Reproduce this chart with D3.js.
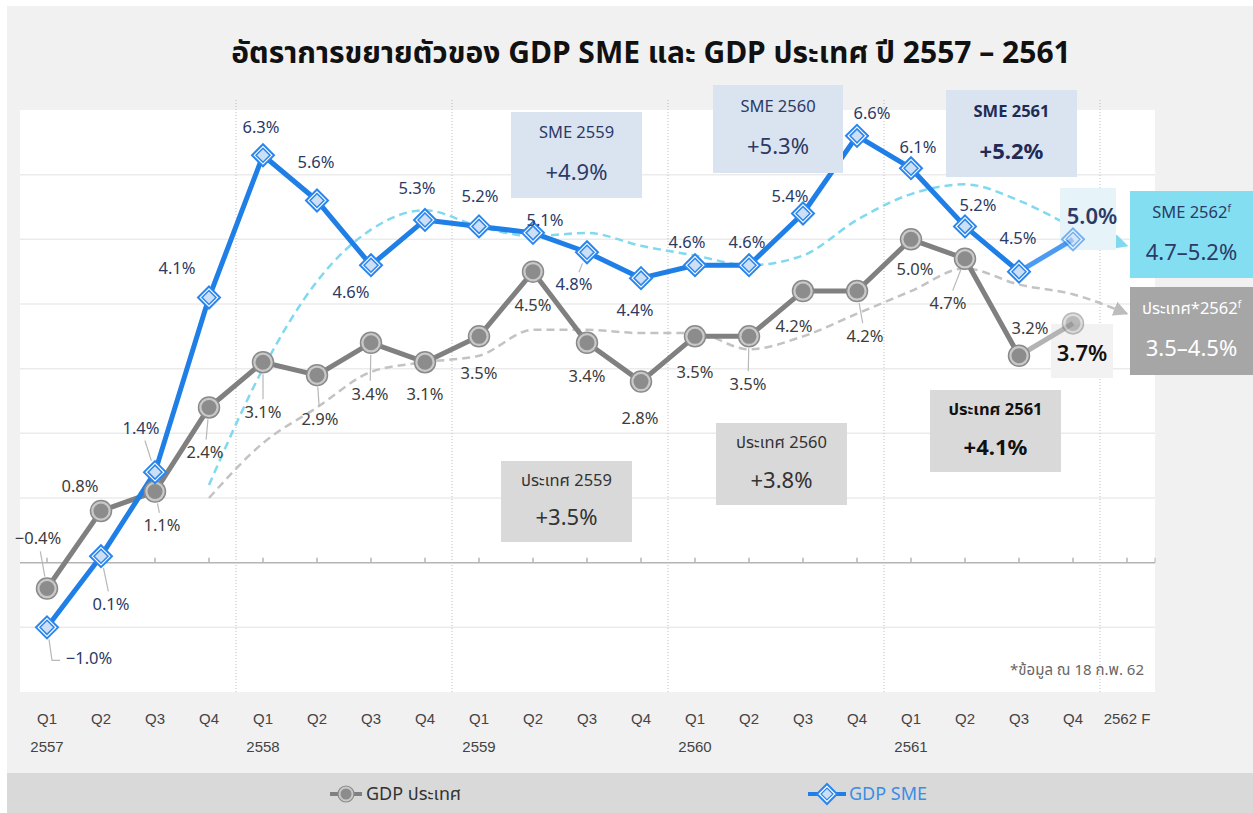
<!DOCTYPE html>
<html lang="th">
<head>
<meta charset="utf-8">
<title>GDP SME vs GDP ประเทศ</title>
<script src="https://cdn.jsdelivr.net/npm/d3@7"></script>
<style>
  body { margin: 0; background: #fff; }
  svg text { font-family: "Noto Sans", "Noto Sans Thai", "Leelawadee UI", sans-serif; }
  .xlab { font-family: "Liberation Sans Narrow", "Liberation Sans", sans-serif !important; }
</style>
</head>
<body>
<script>
// ---- data ----
var quarters = ["Q1","Q2","Q3","Q4","Q1","Q2","Q3","Q4","Q1","Q2","Q3","Q4",
                "Q1","Q2","Q3","Q4","Q1","Q2","Q3","Q4","2562 F"];
var years = ["2557","","","","2558","","","","2559","","","","2560","","","","2561","","","",""];
var gdpCountry = [-0.4, 0.8, 1.1, 2.4, 3.1, 2.9, 3.4, 3.1, 3.5, 4.5, 3.4, 2.8, 3.5, 3.5, 4.2, 4.2, 5.0, 4.7, 3.2, 3.7];
var gdpSme = [-1.0, 0.1, 1.4, 4.1, 6.3, 5.6, 4.6, 5.3, 5.2, 5.1, 4.8, 4.4, 4.6, 4.6, 5.4, 6.6, 6.1, 5.2, 4.5, 5.0];
// dashed trend lines, from Q4 2557 to 2562 F
var trendStart = 3;
var smeTrend = [1.2, 3.0, 4.35, 5.15, 5.45, 5.2, 5.05, 5.1, 4.9, 4.75, 4.6, 4.75, 5.3, 5.7, 5.85, 5.6, 5.2, 4.9];
var countryTrend = [1.0, 1.85, 2.4, 2.95, 3.1, 3.2, 3.6, 3.6, 3.55, 3.55, 3.3, 3.5, 3.85, 4.2, 4.55, 4.3, 4.15, 3.85];
var yearStarts = [4, 8, 12, 16, 20];
var smeAnnual = ["+4.9%", "+5.3%", "+5.2%"];
var countryAnnual = ["+3.5%", "+3.8%", "+4.1%"];
var smeForecast = "4.7\u20135.2%";
var countryForecast = "3.5\u20134.5%";
var yTicks = [-1, 0, 1, 2, 3, 4, 5, 6];

// label offsets [dx, dy, leader]
var smeLab = [[42,31,1],[10,48,1],[-14,-44,1],[-32,-29,0],[-2,-28,0],[-1,-38,0],[-20,27,0],[-8,-32,0],
              [1,-30,0],[12,-13,0],[-13,32,1],[-6,32,0],[-8,-23,0],[-2,-23,0],[-13,-17,0],[15,-23,0],
              [7,-21,0],[13,-21,0],[-1,-33,0],[19,-23,0]];
var gdpLab = [[-9,-50,1],[-21,-25,0],[7,34,1],[-4,45,1],[0,50,1],[3,44,1],[-1,51,1],[0,32,0],
              [0,37,0],[0,34,0],[0,33,0],[-1,37,0],[0,36,0],[-1,48,1],[-9,35,0],[8,45,1],
              [4,30,0],[-17,44,1],[11,-28,0],[9,30,0]];

var W = 1253, H = 813;
var svg = d3.select("body").append("svg").attr("width", W).attr("height", H);

svg.append("rect").attr("x", 7).attr("y", 6).attr("width", W - 7).attr("height", H - 6).attr("fill", "#f1f1f1");
svg.append("rect").attr("x", 7).attr("y", 773).attr("width", W - 7).attr("height", 40).attr("fill", "#d9d9d9");

var x = d3.scaleBand().domain(d3.range(quarters.length)).range([20, 1154]);
var cx = function (i) { return x(i) + x.bandwidth() / 2; };
var y = d3.scaleLinear().domain([-2, 7]).range([692, 110]);

// plot area
svg.append("rect").attr("x", 20).attr("y", 110).attr("width", 1135).attr("height", 582).attr("fill", "#fff");

svg.append("g").selectAll("line").data(yTicks.filter(function (d) { return d !== 0; })).enter().append("line")
  .attr("x1", 20).attr("x2", 1155)
  .attr("y1", function (d) { return y(d); }).attr("y2", function (d) { return y(d); })
  .attr("stroke", "#ebebeb").attr("stroke-width", 1.5);

svg.append("g").selectAll("line").data(yearStarts).enter().append("line")
  .attr("x1", function (d) { return x(d); }).attr("x2", function (d) { return x(d); })
  .attr("y1", 100).attr("y2", 692)
  .attr("stroke", "#bdbdbd").attr("stroke-dasharray", "1,2");

// zero axis with ticks
var zeroAxis = d3.axisTop(x).tickSize(5).tickFormat("");
var za = svg.append("g").attr("transform", "translate(0," + y(0) + ")").call(zeroAxis);
za.selectAll("path, line").attr("stroke", "#b4b4b4").attr("stroke-width", 1.5);
za.select(".domain").attr("d", "M20,0H1155");
za.append("line").attr("x1", 1155).attr("x2", 1155).attr("y1", 0).attr("y2", -5).attr("stroke", "#b4b4b4");

// x labels
svg.append("g").selectAll("text").data(quarters).enter().append("text").attr("class", "xlab")
  .attr("x", function (d, i) { return cx(i); }).attr("y", 724)
  .attr("text-anchor", "middle").attr("font-size", 15).attr("fill", "#444").text(function (d) { return d; });
svg.append("g").selectAll("text").data(years).enter().append("text").attr("class", "xlab")
  .attr("x", function (d, i) { return cx(i); }).attr("y", 752)
  .attr("text-anchor", "middle").attr("font-size", 15).attr("fill", "#444").text(function (d) { return d; });

// arrow markers
var defs = svg.append("defs");
[["arrCyan", "#80d9ee"], ["arrGray", "#bdbdbd"]].forEach(function (m) {
  defs.append("marker").attr("id", m[0]).attr("viewBox", "0 0 10 10").attr("refX", 9).attr("refY", 5)
    .attr("markerWidth", 6).attr("markerHeight", 6).attr("markerUnits", "strokeWidth").attr("orient", "auto")
    .append("path").attr("d", "M0,0L10,5L0,10Z").attr("fill", m[1]);
});

var trendLine = d3.line().x(function (d, i) { return cx(i + trendStart); }).y(function (d) { return y(d); })
  .curve(d3.curveMonotoneX);
svg.append("path").datum(countryTrend).attr("d", trendLine).attr("fill", "none")
  .attr("stroke", "#c3c3c3").attr("stroke-width", 2.5).attr("stroke-dasharray", "8,5")
  .attr("marker-end", "url(#arrGray)");
svg.append("path").datum(smeTrend).attr("d", trendLine).attr("fill", "none")
  .attr("stroke", "#80d9ee").attr("stroke-width", 2.5).attr("stroke-dasharray", "8,5")
  .attr("marker-end", "url(#arrCyan)");

// highlight boxes behind last values
svg.append("rect").attr("x", 1060).attr("y", 188).attr("width", 56).attr("height", 62).attr("fill", "#e6f3f8");
svg.append("rect").attr("x", 1051).attr("y", 324).attr("width", 62).attr("height", 54).attr("fill", "#f2f2f2");

var line = d3.line().x(function (d, i) { return cx(i); }).y(function (d) { return y(d); });
var n = gdpCountry.length;

// GDP country line
svg.append("path").datum(gdpCountry.slice(0, n - 1)).attr("d", line).attr("fill", "none")
  .attr("stroke", "#808080").attr("stroke-width", 5).attr("stroke-linejoin", "round");
svg.append("line").attr("x1", cx(n - 2)).attr("y1", y(gdpCountry[n - 2])).attr("x2", cx(n - 1)).attr("y2", y(gdpCountry[n - 1]))
  .attr("stroke", "#b3b3b3").attr("stroke-width", 5);

// SME line
svg.append("path").datum(gdpSme.slice(0, n - 1)).attr("d", line).attr("fill", "none")
  .attr("stroke", "#1f7fe6").attr("stroke-width", 5).attr("stroke-linejoin", "round");
svg.append("line").attr("x1", cx(n - 2)).attr("y1", y(gdpSme[n - 2])).attr("x2", cx(n - 1)).attr("y2", y(gdpSme[n - 1]))
  .attr("stroke", "#4d9bf0").attr("stroke-width", 5);

// leader lines from points to their labels
function drawLeaders(vals, labs) {
  var g = svg.append("g");
  vals.forEach(function (v, i) {
    if (!labs[i][2]) return;
    var px = cx(i), py = y(v), dx = labs[i][0], dy = labs[i][1];
    var len = Math.sqrt(dx * dx + dy * dy);
    var s = 12 / len, e = (len - 13) / len;
    if (Math.abs(dx) > 30) {
      // elbow leader
      g.append("polyline").attr("points", [[px + 2, py + 12], [px + 5, py + dy + 2], [px + 13, py + dy + 2]].join(" "))
        .attr("fill", "none").attr("stroke", "#b8b8b8").attr("stroke-width", 1.2);
      return;
    }
    g.append("line").attr("x1", px + dx * s).attr("y1", py + dy * s)
      .attr("x2", px + dx * e).attr("y2", py + dy * e)
      .attr("stroke", "#b8b8b8").attr("stroke-width", 1.2);
  });
}
drawLeaders(gdpCountry, gdpLab);
drawLeaders(gdpSme, smeLab);

// GDP markers
var gm = svg.append("g").selectAll("g").data(gdpCountry).enter().append("g")
  .attr("transform", function (d, i) { return "translate(" + cx(i) + "," + y(d) + ")"; })
  .attr("opacity", function (d, i) { return i === n - 1 ? 0.6 : 1; });
gm.append("circle").attr("r", 10.5).attr("fill", "#c9c9c9").attr("stroke", "#8a8a8a").attr("stroke-width", 1.5);
gm.append("circle").attr("r", 7.5).attr("fill", "#8c8c8c");

// SME markers
var diamond = function (r) { return "M0," + (-r) + "L" + r + ",0L0," + r + "L" + (-r) + ",0Z"; };
var sm = svg.append("g").selectAll("g").data(gdpSme).enter().append("g")
  .attr("transform", function (d, i) { return "translate(" + cx(i) + "," + y(d) + ")"; })
  .attr("opacity", function (d, i) { return i === n - 1 ? 0.6 : 1; });
sm.append("path").attr("d", diamond(11)).attr("fill", "#fff").attr("stroke", "#2a86ec").attr("stroke-width", 2);
sm.append("path").attr("d", diamond(7)).attr("fill", "#cddff5").attr("stroke", "#2a86ec").attr("stroke-width", 1.5);

// value labels
function fmt(v) { return (v < 0 ? "\u2212" : "") + Math.abs(v).toFixed(1) + "%"; }
svg.append("g").selectAll("text").data(gdpCountry).enter().append("text")
  .attr("x", function (d, i) { return cx(i) + gdpLab[i][0]; })
  .attr("y", function (d, i) { return y(d) + gdpLab[i][1]; })
  .attr("dy", "0.35em").attr("text-anchor", "middle")
  .attr("font-size", function (d, i) { return i === n - 1 ? 22 : 16.5; })
  .attr("font-weight", function (d, i) { return i === n - 1 ? 600 : 400; })
  .attr("fill", function (d, i) { return i === n - 1 ? "#111" : "#3c3c3c"; })
  .text(fmt);
svg.append("g").selectAll("text").data(gdpSme).enter().append("text")
  .attr("x", function (d, i) { return cx(i) + smeLab[i][0]; })
  .attr("y", function (d, i) { return y(d) + smeLab[i][1]; })
  .attr("dy", "0.35em").attr("text-anchor", "middle")
  .attr("font-size", function (d, i) { return i === n - 1 ? 22 : 16.5; })
  .attr("font-weight", function (d, i) { return i === n - 1 ? 600 : 400; })
  .attr("fill", "#2c3a66")
  .text(fmt);

// annual boxes
var boxes = [
  { x: 511, y: 112, w: 131, h: 86, t: "SME 2559", v: smeAnnual[0], fill: "#dae3f0", col: "#2c3a66", bold: false },
  { x: 713, y: 85, w: 130, h: 88, t: "SME 2560", v: smeAnnual[1], fill: "#dae3f0", col: "#2c3a66", bold: false },
  { x: 946, y: 90, w: 131, h: 87, t: "SME 2561", v: smeAnnual[2], fill: "#dae3f0", col: "#1f2b55", bold: true },
  { x: 501, y: 461, w: 131, h: 81, t: "ประเทศ 2559", v: countryAnnual[0], fill: "#d9d9d9", col: "#333", bold: false },
  { x: 716, y: 423, w: 131, h: 82, t: "ประเทศ 2560", v: countryAnnual[1], fill: "#d9d9d9", col: "#333", bold: false },
  { x: 930, y: 390, w: 131, h: 82, t: "ประเทศ 2561", v: countryAnnual[2], fill: "#d9d9d9", col: "#111", bold: true },
  { x: 1130, y: 191, w: 123, h: 87, t: "SME 2562", sup: true, v: smeForecast, fill: "#84def2", col: "#2c3a66", bold: false },
  { x: 1130, y: 287, w: 123, h: 88, t: "ประเทศ*2562", sup: true, v: countryForecast, fill: "#a6a6a6", col: "#fff", bold: false }
];
var bg = svg.append("g").selectAll("g").data(boxes).enter().append("g");
bg.append("rect").attr("x", function (d) { return d.x; }).attr("y", function (d) { return d.y; })
  .attr("width", function (d) { return d.w; }).attr("height", function (d) { return d.h; })
  .attr("fill", function (d) { return d.fill; });
var bt = bg.append("text").attr("x", function (d) { return d.x + d.w / 2; }).attr("y", function (d) { return d.y + d.h * 0.24; })
  .attr("dy", "0.35em").attr("text-anchor", "middle").attr("font-size", 16.5)
  .attr("font-weight", function (d) { return d.bold ? 700 : 400; })
  .attr("fill", function (d) { return d.col; });
bt.append("tspan").text(function (d) { return d.t; });
bt.filter(function (d) { return d.sup; }).append("tspan").attr("dy", "-0.6em").attr("font-size", 10).text("f");
bg.append("text").attr("x", function (d) { return d.x + d.w / 2; }).attr("y", function (d) { return d.y + d.h * 0.7; })
  .attr("dy", "0.35em").attr("text-anchor", "middle").attr("font-size", 22)
  .attr("font-weight", function (d) { return d.bold ? 700 : 400; })
  .attr("fill", function (d) { return d.col; })
  .text(function (d) { return d.v; });

// footnote
svg.append("text").attr("x", 1144).attr("y", 670).attr("dy", "0.35em").attr("text-anchor", "end")
  .attr("font-size", 15).attr("fill", "#666").text("*ข้อมูล ณ 18 ก.พ. 62");

// title
svg.append("text").attr("x", 651).attr("y", 52).attr("dy", "0.35em").attr("text-anchor", "middle")
  .attr("font-size", 30).attr("font-weight", 700).attr("fill", "#111")
  .text("อัตราการขยายตัวของ GDP SME และ GDP ประเทศ ปี 2557 – 2561");

// legend
var lg = svg.append("g");
lg.append("line").attr("x1", 330).attr("x2", 362).attr("y1", 794).attr("y2", 794).attr("stroke", "#808080").attr("stroke-width", 4);
lg.append("circle").attr("cx", 346).attr("cy", 794).attr("r", 8).attr("fill", "#c9c9c9").attr("stroke", "#8a8a8a").attr("stroke-width", 1.2);
lg.append("circle").attr("cx", 346).attr("cy", 794).attr("r", 5.5).attr("fill", "#8c8c8c");
lg.append("text").attr("x", 366).attr("y", 794).attr("dy", "0.35em").attr("font-size", 18).attr("fill", "#333").text("GDP ประเทศ");
lg.append("line").attr("x1", 808).attr("x2", 846).attr("y1", 794).attr("y2", 794).attr("stroke", "#1f7fe6").attr("stroke-width", 4);
lg.append("path").attr("transform", "translate(827,794)").attr("d", diamond(10)).attr("fill", "#fff").attr("stroke", "#2a86ec").attr("stroke-width", 2);
lg.append("path").attr("transform", "translate(827,794)").attr("d", diamond(6)).attr("fill", "#cddff5").attr("stroke", "#2a86ec").attr("stroke-width", 1.2);
lg.append("text").attr("x", 849).attr("y", 794).attr("dy", "0.35em").attr("font-size", 18).attr("fill", "#3a8de6").text("GDP SME");
</script>
</body>
</html>
